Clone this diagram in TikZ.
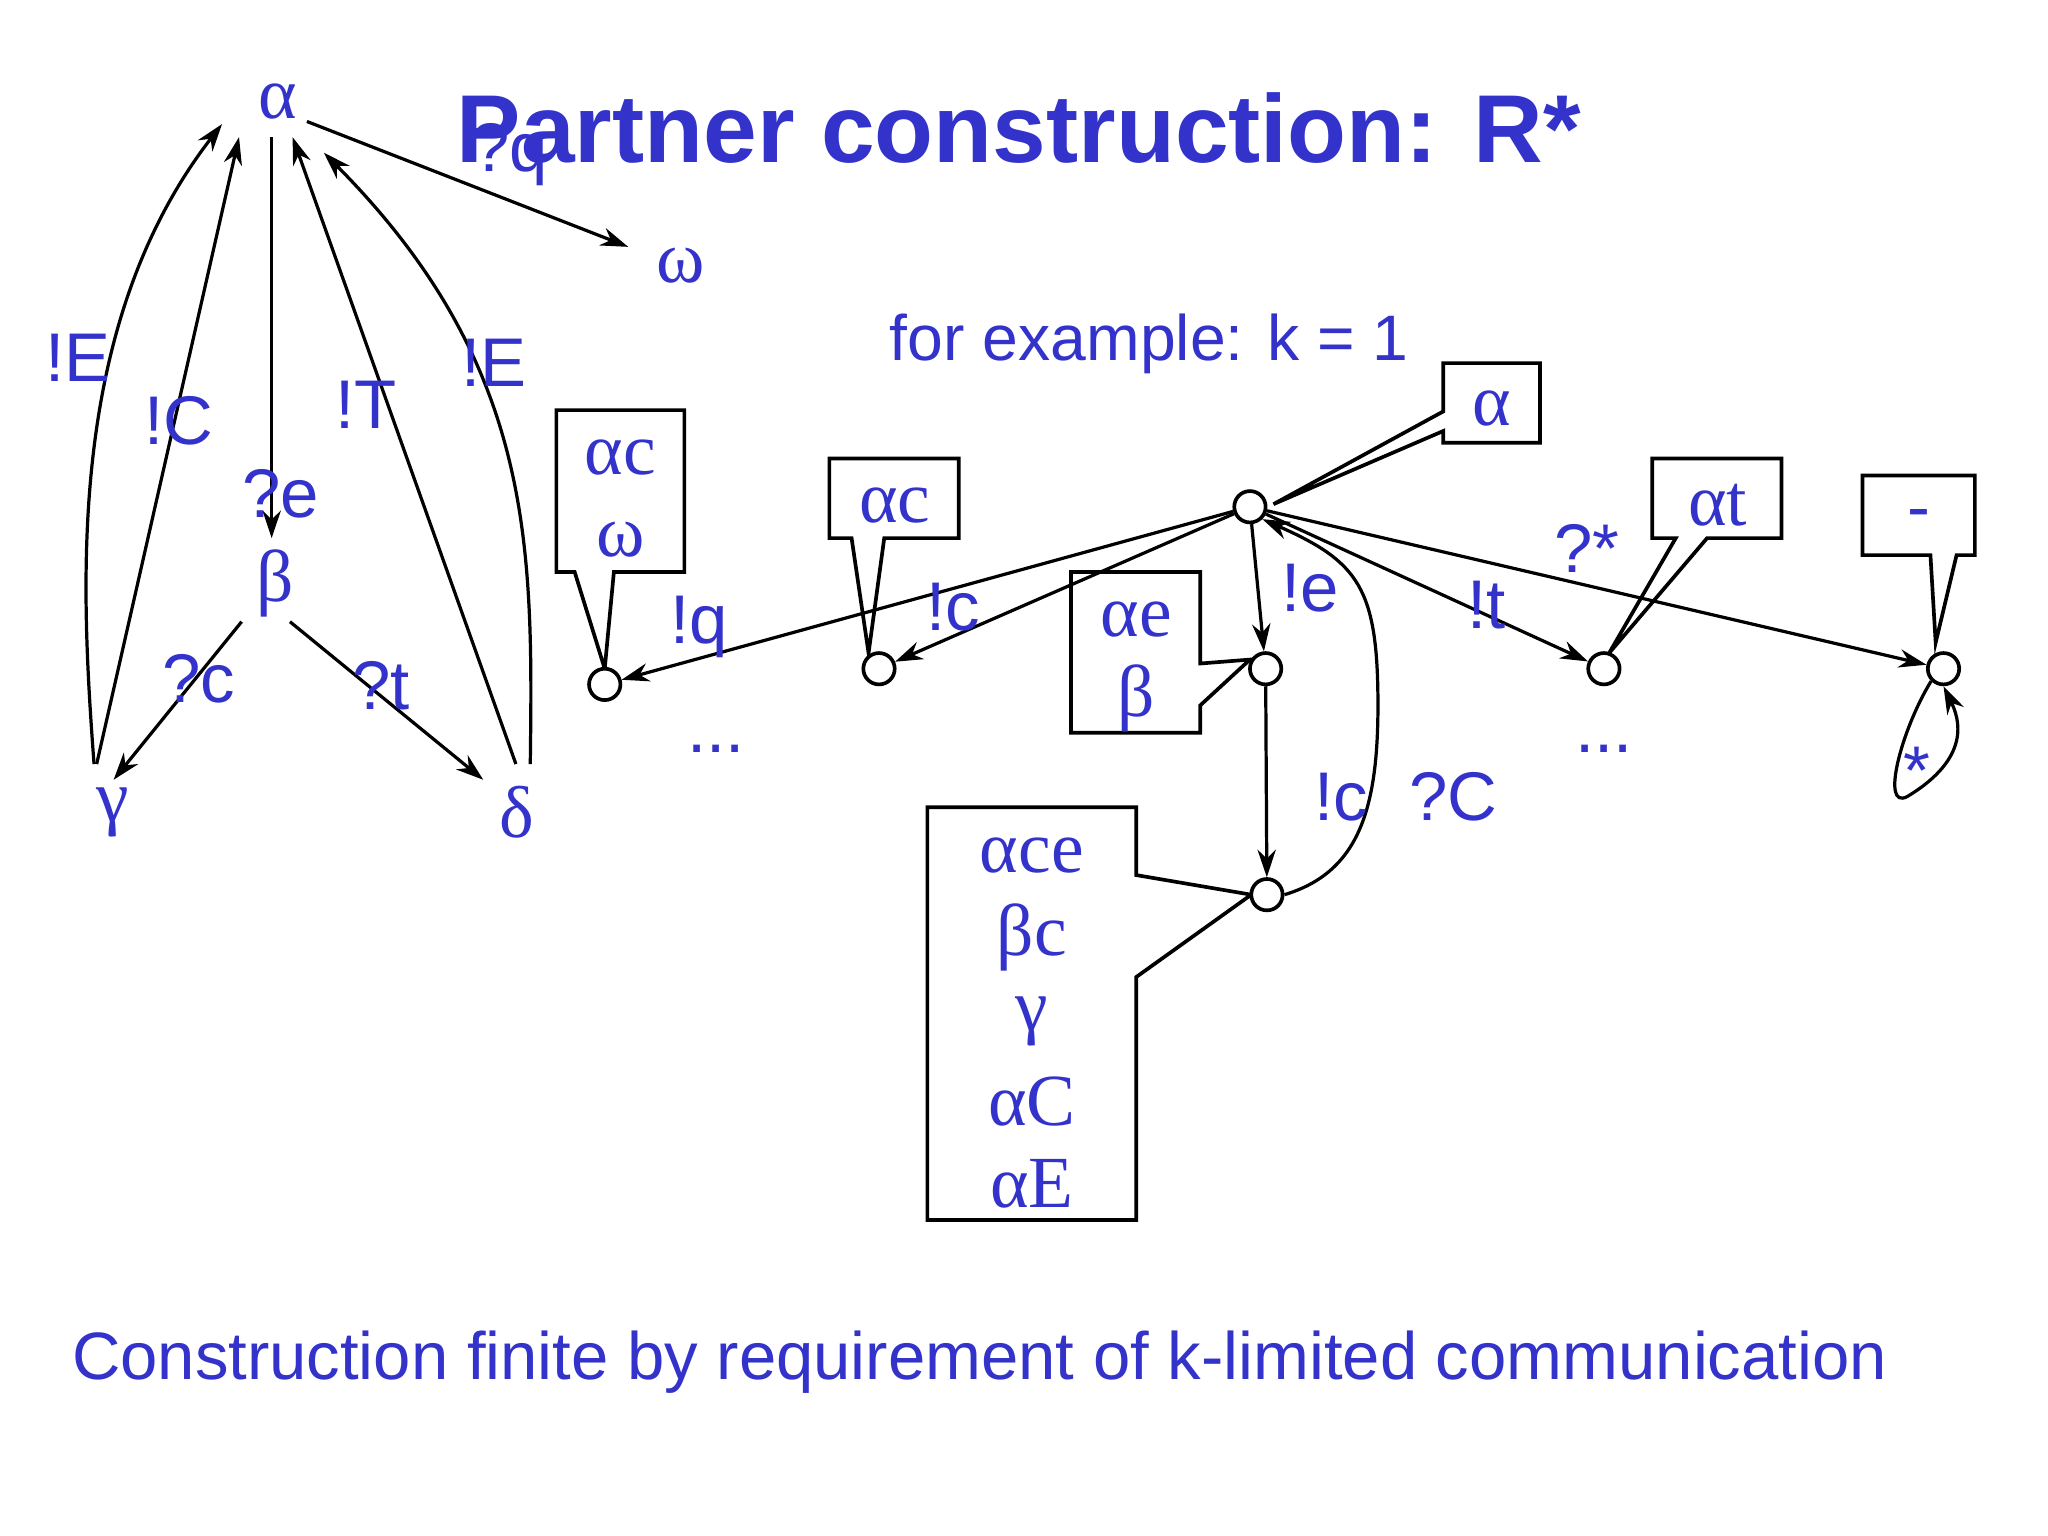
\documentclass[tikz,border=0pt]{standalone}
\usepackage{fontspec}
\setmainfont{Liberation Sans}
\newfontfamily\gr{Liberation Serif}
\usetikzlibrary{arrows.meta}
\definecolor{tb}{RGB}{51,51,204}
\begin{document}
\begin{tikzpicture}[x=0.01cm,y=-0.01cm,
  lbl/.style={text=tb,font=\fontsize{15}{17}\selectfont,inner sep=0pt},
  gk/.style={text=tb,font=\gr\fontsize{16}{18}\selectfont,inner sep=0pt},
  ed/.style={draw,line width=0.7pt,-{Stealth[length=6pt,width=4pt]}},
  st/.style={circle,draw,line width=0.8pt,minimum size=0.24cm,inner sep=0pt,fill=white},
  box/.style={draw,line width=0.8pt,fill=white}]
\useasboundingbox[fill=white] (0,0) rectangle (1568,1176);
% title
\node[text=tb,font=\bfseries\fontsize{21}{25}\selectfont] (title) at (780,98) {Partner construction: R*};
\node[text=tb,font=\fontsize{14}{16}\selectfont] (ex) at (880,263) {for example: k = 1};
\node[text=tb,font=\fontsize{14.6}{17}\selectfont] (bot) at (750,1043) {Construction finite by requirement of k-limited communication};
% left graph
\node[gk] (a) at (213,78) {α};
\node[gk] (w) at (521,203) {ω};
\node[gk] (b) at (211,447) {β};
\node[gk] (g) at (86,622) {γ};
\node[gk] (d) at (396,622) {δ};
\coordinate (aw1) at (235,93); \coordinate (aw2) at (481,189);
\draw[ed] (aw1) -- (aw2);
\coordinate (ab1) at (208,105); \coordinate (ab2) at (208,412);
\draw[ed] (ab1) -- (ab2);
\coordinate (bg1) at (185,476); \coordinate (bg2) at (87,597);
\draw[ed] (bg1) -- (bg2);
\coordinate (bd1) at (222,476); \coordinate (bd2) at (370,597);
\draw[ed] (bd1) -- (bd2);
\coordinate (ga1) at (74,585); \coordinate (ga2) at (183,105);
\draw[ed] (ga1) -- (ga2);
\coordinate (gc1) at (72,585); \coordinate (gc2) at (170,95);
\draw[ed] (gc1) .. controls (62,450) and (50,250) .. (gc2);
\coordinate (da1) at (395,585); \coordinate (da2) at (224,105);
\draw[ed] (da1) -- (da2);
\coordinate (dc1) at (406,585); \coordinate (dc2) at (248,117);
\draw[ed] (dc1) .. controls (408,420) and (410,280) .. (dc2);
\node[lbl] (l1) at (390,118) {?q};
\node[lbl] (l2) at (215,378) {?e};
\node[lbl] (l3) at (152,520) {?c};
\node[lbl] (l4) at (292,525) {?t};
\node[lbl] (l5) at (137,322) {!C};
\node[lbl] (l6) at (60,274) {!E};
\node[lbl] (l7) at (280,310) {!T};
\node[lbl] (l8) at (378,278) {!E};
% callout boxes
\draw[box] (1105,278) -- (1179,278) -- (1179,339) -- (1105,339) -- (1105,330) -- (975,386) -- (1105,315) -- cycle;
\draw[box] (426,314) -- (524,314) -- (524,438) -- (470,438) -- (463,512) -- (440,438) -- (426,438) -- cycle;
\draw[box] (635,351) -- (734,351) -- (734,412) -- (677,412) -- (665,500) -- (652,412) -- (635,412) -- cycle;
\draw[box] (820,438) -- (919,438) -- (919,508) -- (957,505) -- (919,540) -- (919,561) -- (820,561) -- cycle;
\draw[box] (1265,351) -- (1364,351) -- (1364,412) -- (1307,412) -- (1232,500) -- (1283,412) -- (1265,412) -- cycle;
\draw[box] (1426,364) -- (1512,364) -- (1512,425) -- (1498,425) -- (1482,492) -- (1478,425) -- (1426,425) -- cycle;
\draw[box] (710,618) -- (870,618) -- (870,670) -- (958,685) -- (870,748) -- (870,934) -- (710,934) -- cycle;
\node[gk] (t1) at (1142,313) {α};
\node[gk] (t2a) at (475,350) {αc};
\node[gk] (t2b) at (475,413) {ω};
\node[gk] (t3) at (685,387) {αc};
\node[gk] (t4a) at (870,474) {αe};
\node[gk] (t4b) at (870,535) {β};
\node[gk] (t5) at (1315,387) {αt};
\node[lbl] (t6) at (1469,398) {-};
\node[gk] (t7a) at (790,655) {αce};
\node[gk] (t7b) at (790,718) {βc};
\node[gk] (t7c) at (790,782) {γ};
\node[gk] (t7d) at (790,843) {αC};
\node[gk] (t7e) at (790,906) {αE};
% states
\node[st] (c0) at (957,388) {};
\node[st] (c1) at (463,524) {};
\node[st] (c2) at (673,512) {};
\node[st] (c3) at (969,512) {};
\node[st] (c4) at (970,685) {};
\node[st] (c5) at (1228,512) {};
\node[st] (c6) at (1488,512) {};
\draw[ed] (c0) -- (c1);
\draw[ed] (c0) -- (c2);
\draw[ed] (c0) -- (c3);
\draw[ed] (c0) -- (c5);
\draw[ed] (c0) -- (c6);
\draw[ed] (c3) -- (c4);
\draw[ed] (c4.east) .. controls (1040,668) and (1055,620) .. (1055,540) .. controls (1055,450) and (1040,430) .. (c0.south east);
\draw[ed] (c6.south west) .. controls (1455,560) and (1440,620) .. (1460,610) .. controls (1510,580) and (1500,550) .. (c6.south);
\node[lbl] (e1) at (535,480) {!q};
\node[lbl] (e2) at (730,465) {!c};
\node[lbl] (e3) at (1003,450) {!e};
\node[lbl] (e4) at (1138,463) {!t};
\node[lbl] (e5) at (1215,420) {?*};
\node[lbl] (e6) at (1027,610) {!c};
\node[lbl] (e7) at (1113,610) {?C};
\node[lbl] (e8) at (1468,590) {*};
\node[lbl] (dots1) at (548,573) {...};
\node[lbl] (dots2) at (1228,573) {...};
\end{tikzpicture}
\end{document}
